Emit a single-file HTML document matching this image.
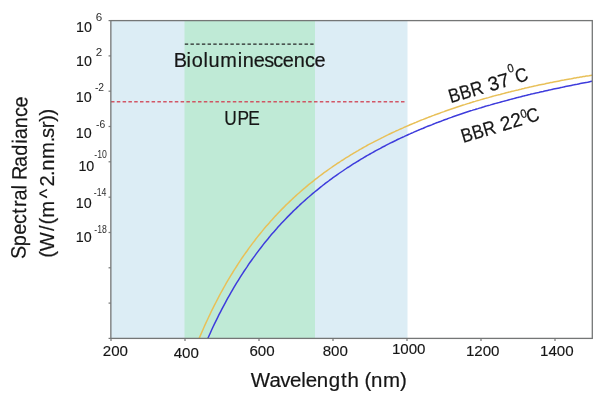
<!DOCTYPE html>
<html><head><meta charset="utf-8"><title>Spectral Radiance</title>
<style>
html,body{margin:0;padding:0;background:#fff;}
body{width:600px;height:401px;overflow:hidden;font-family:"Liberation Sans",sans-serif;}
svg{display:block;filter:blur(0.5px);}
text{font-family:"Liberation Sans",sans-serif;fill:#161616;stroke:#161616;stroke-width:0.2px;}
text.ex{fill:#2c2c2c;stroke:none;}
g.tk text{stroke-width:0.14px;}
g.tk text.ex{stroke:none;}
</style></head><body>
<svg width="600" height="401" viewBox="0 0 600 401">
<defs><clipPath id="cp"><rect x="110.85" y="20.6" width="481.44999999999993" height="317.79999999999995"/></clipPath></defs>
<rect x="-5" y="-5" width="610" height="411" fill="#ffffff"/>
<rect x="110.85" y="20.6" width="296.65" height="317.79999999999995" fill="#dcedf5"/>
<rect x="184.5" y="20.6" width="130.5" height="317.79999999999995" fill="#bfead6"/>
<g clip-path="url(#cp)" fill="none" stroke-width="1.5" stroke-linecap="butt">
<path d="M192.4,355.2 L193.9,351.4 L195.4,347.7 L196.8,344.0 L198.3,340.4 L199.8,336.9 L201.3,333.4 L202.8,330.0 L204.2,326.7 L205.7,323.4 L207.2,320.2 L208.7,317.0 L210.2,313.9 L211.6,310.8 L213.1,307.8 L214.6,304.9 L216.1,302.0 L217.6,299.1 L219.0,296.3 L220.5,293.5 L222.0,290.8 L223.5,288.2 L225.0,285.5 L226.4,282.9 L227.9,280.4 L229.4,277.9 L230.9,275.4 L232.4,273.0 L233.8,270.6 L235.3,268.3 L236.8,266.0 L238.3,263.7 L239.8,261.4 L241.2,259.2 L242.7,257.0 L244.2,254.9 L245.7,252.8 L247.2,250.7 L248.6,248.6 L250.1,246.6 L251.6,244.6 L253.1,242.6 L254.6,240.7 L256.0,238.8 L257.5,236.9 L259.0,235.0 L260.5,233.2 L262.0,231.4 L263.4,229.6 L264.9,227.8 L266.4,226.1 L267.9,224.4 L269.4,222.7 L270.8,221.0 L272.3,219.4 L273.8,217.7 L275.3,216.1 L276.8,214.6 L278.2,213.0 L279.7,211.4 L281.2,209.9 L282.7,208.4 L284.2,206.9 L285.6,205.4 L287.1,204.0 L288.6,202.6 L290.1,201.1 L291.6,199.7 L293.0,198.4 L294.5,197.0 L296.0,195.6 L297.5,194.3 L299.0,193.0 L300.4,191.7 L301.9,190.4 L303.4,189.1 L304.9,187.9 L306.4,186.6 L307.8,185.4 L309.3,184.2 L310.8,183.0 L312.3,181.8 L313.8,180.6 L315.2,179.4 L316.7,178.3 L318.2,177.2 L319.7,176.0 L321.2,174.9 L322.6,173.8 L324.1,172.7 L325.6,171.7 L327.1,170.6 L328.6,169.5 L330.0,168.5 L331.5,167.5 L333.0,166.4 L334.5,165.4 L336.0,164.4 L337.4,163.4 L338.9,162.5 L340.4,161.5 L341.9,160.5 L343.4,159.6 L344.8,158.6 L346.3,157.7 L347.8,156.8 L349.3,155.9 L350.8,154.9 L352.2,154.1 L353.7,153.2 L355.2,152.3 L356.7,151.4 L358.2,150.6 L359.6,149.7 L361.1,148.9 L362.6,148.0 L364.1,147.2 L365.6,146.4 L367.0,145.5 L368.5,144.7 L370.0,143.9 L371.5,143.2 L373.0,142.4 L374.4,141.6 L375.9,140.8 L377.4,140.1 L378.9,139.3 L380.4,138.6 L381.8,137.8 L383.3,137.1 L384.8,136.3 L386.3,135.6 L387.8,134.9 L389.2,134.2 L390.7,133.5 L392.2,132.8 L393.7,132.1 L395.2,131.4 L396.6,130.7 L398.1,130.1 L399.6,129.4 L401.1,128.7 L402.6,128.1 L404.0,127.4 L405.5,126.8 L407.0,126.1 L408.5,125.5 L410.0,124.8 L411.4,124.2 L412.9,123.6 L414.4,123.0 L415.9,122.4 L417.4,121.7 L418.8,121.1 L420.3,120.5 L421.8,119.9 L423.3,119.4 L424.8,118.8 L426.2,118.2 L427.7,117.6 L429.2,117.0 L430.7,116.5 L432.2,115.9 L433.6,115.4 L435.1,114.8 L436.6,114.3 L438.1,113.7 L439.6,113.2 L441.0,112.6 L442.5,112.1 L444.0,111.6 L445.5,111.0 L447.0,110.5 L448.4,110.0 L449.9,109.5 L451.4,109.0 L452.9,108.5 L454.4,108.0 L455.8,107.5 L457.3,107.0 L458.8,106.5 L460.3,106.0 L461.8,105.5 L463.2,105.0 L464.7,104.6 L466.2,104.1 L467.7,103.6 L469.2,103.2 L470.6,102.7 L472.1,102.3 L473.6,101.8 L475.1,101.4 L476.6,100.9 L478.0,100.5 L479.5,100.1 L481.0,99.6 L482.5,99.2 L484.0,98.8 L485.4,98.4 L486.9,98.0 L488.4,97.6 L489.9,97.1 L491.4,96.7 L492.8,96.3 L494.3,95.9 L495.8,95.5 L497.3,95.1 L498.8,94.7 L500.2,94.4 L501.7,94.0 L503.2,93.6 L504.7,93.2 L506.2,92.8 L507.6,92.4 L509.1,92.1 L510.6,91.7 L512.1,91.3 L513.6,91.0 L515.0,90.6 L516.5,90.2 L518.0,89.9 L519.5,89.5 L521.0,89.2 L522.4,88.8 L523.9,88.5 L525.4,88.1 L526.9,87.8 L528.4,87.4 L529.8,87.1 L531.3,86.8 L532.8,86.4 L534.3,86.1 L535.8,85.8 L537.2,85.4 L538.7,85.1 L540.2,84.8 L541.7,84.5 L543.2,84.2 L544.6,83.9 L546.1,83.5 L547.6,83.2 L549.1,82.9 L550.6,82.6 L552.0,82.4 L553.5,82.1 L555.0,81.8 L556.5,81.5 L558.0,81.2 L559.4,80.9 L560.9,80.6 L562.4,80.3 L563.9,80.1 L565.4,79.8 L566.8,79.5 L568.3,79.2 L569.8,78.9 L571.3,78.7 L572.8,78.4 L574.2,78.1 L575.7,77.9 L577.2,77.6 L578.7,77.4 L580.2,77.1 L581.6,76.9 L583.1,76.6 L584.6,76.4 L586.1,76.1 L587.6,75.9 L589.0,75.7 L590.5,75.4 L592.0,75.2 L593.5,75.0" stroke="#e8c058"/>
<path d="M192.4,376.8 L193.9,372.7 L195.4,368.8 L196.8,364.9 L198.3,361.1 L199.8,357.4 L201.3,353.8 L202.8,350.2 L204.2,346.7 L205.7,343.2 L207.2,339.8 L208.7,336.5 L210.2,333.2 L211.6,330.0 L213.1,326.8 L214.6,323.7 L216.1,320.6 L217.6,317.6 L219.0,314.7 L220.5,311.8 L222.0,308.9 L223.5,306.1 L225.0,303.3 L226.4,300.6 L227.9,297.9 L229.4,295.3 L230.9,292.7 L232.4,290.1 L233.8,287.6 L235.3,285.1 L236.8,282.7 L238.3,280.3 L239.8,277.9 L241.2,275.6 L242.7,273.3 L244.2,271.0 L245.7,268.8 L247.2,266.6 L248.6,264.4 L250.1,262.3 L251.6,260.2 L253.1,258.1 L254.6,256.1 L256.0,254.1 L257.5,252.1 L259.0,250.1 L260.5,248.2 L262.0,246.3 L263.4,244.4 L264.9,242.5 L266.4,240.7 L267.9,238.9 L269.4,237.1 L270.8,235.3 L272.3,233.6 L273.8,231.9 L275.3,230.2 L276.8,228.5 L278.2,226.8 L279.7,225.2 L281.2,223.6 L282.7,222.0 L284.2,220.4 L285.6,218.9 L287.1,217.4 L288.6,215.9 L290.1,214.4 L291.6,212.9 L293.0,211.4 L294.5,210.0 L296.0,208.6 L297.5,207.1 L299.0,205.8 L300.4,204.4 L301.9,203.0 L303.4,201.7 L304.9,200.4 L306.4,199.0 L307.8,197.7 L309.3,196.5 L310.8,195.2 L312.3,193.9 L313.8,192.7 L315.2,191.5 L316.7,190.3 L318.2,189.1 L319.7,187.9 L321.2,186.7 L322.6,185.5 L324.1,184.4 L325.6,183.2 L327.1,182.1 L328.6,181.0 L330.0,179.9 L331.5,178.8 L333.0,177.7 L334.5,176.7 L336.0,175.6 L337.4,174.6 L338.9,173.5 L340.4,172.5 L341.9,171.5 L343.4,170.5 L344.8,169.5 L346.3,168.5 L347.8,167.5 L349.3,166.6 L350.8,165.6 L352.2,164.7 L353.7,163.7 L355.2,162.8 L356.7,161.9 L358.2,161.0 L359.6,160.1 L361.1,159.2 L362.6,158.3 L364.1,157.4 L365.6,156.5 L367.0,155.7 L368.5,154.8 L370.0,154.0 L371.5,153.2 L373.0,152.3 L374.4,151.5 L375.9,150.7 L377.4,149.9 L378.9,149.1 L380.4,148.3 L381.8,147.5 L383.3,146.7 L384.8,146.0 L386.3,145.2 L387.8,144.4 L389.2,143.7 L390.7,142.9 L392.2,142.2 L393.7,141.5 L395.2,140.8 L396.6,140.0 L398.1,139.3 L399.6,138.6 L401.1,137.9 L402.6,137.2 L404.0,136.6 L405.5,135.9 L407.0,135.2 L408.5,134.5 L410.0,133.9 L411.4,133.2 L412.9,132.6 L414.4,131.9 L415.9,131.3 L417.4,130.6 L418.8,130.0 L420.3,129.4 L421.8,128.8 L423.3,128.2 L424.8,127.5 L426.2,126.9 L427.7,126.3 L429.2,125.7 L430.7,125.2 L432.2,124.6 L433.6,124.0 L435.1,123.4 L436.6,122.8 L438.1,122.3 L439.6,121.7 L441.0,121.2 L442.5,120.6 L444.0,120.0 L445.5,119.5 L447.0,119.0 L448.4,118.4 L449.9,117.9 L451.4,117.4 L452.9,116.8 L454.4,116.3 L455.8,115.8 L457.3,115.3 L458.8,114.8 L460.3,114.3 L461.8,113.8 L463.2,113.3 L464.7,112.8 L466.2,112.3 L467.7,111.8 L469.2,111.3 L470.6,110.8 L472.1,110.4 L473.6,109.9 L475.1,109.5 L476.6,109.0 L478.0,108.6 L479.5,108.1 L481.0,107.7 L482.5,107.2 L484.0,106.8 L485.4,106.3 L486.9,105.9 L488.4,105.5 L489.9,105.1 L491.4,104.6 L492.8,104.2 L494.3,103.8 L495.8,103.4 L497.3,103.0 L498.8,102.6 L500.2,102.2 L501.7,101.8 L503.2,101.4 L504.7,101.0 L506.2,100.6 L507.6,100.2 L509.1,99.8 L510.6,99.4 L512.1,99.0 L513.6,98.6 L515.0,98.2 L516.5,97.8 L518.0,97.4 L519.5,97.1 L521.0,96.7 L522.4,96.3 L523.9,95.9 L525.4,95.6 L526.9,95.2 L528.4,94.8 L529.8,94.5 L531.3,94.1 L532.8,93.8 L534.3,93.4 L535.8,93.1 L537.2,92.7 L538.7,92.4 L540.2,92.0 L541.7,91.7 L543.2,91.4 L544.6,91.0 L546.1,90.7 L547.6,90.4 L549.1,90.1 L550.6,89.8 L552.0,89.4 L553.5,89.1 L555.0,88.8 L556.5,88.5 L558.0,88.2 L559.4,87.9 L560.9,87.6 L562.4,87.3 L563.9,86.9 L565.4,86.6 L566.8,86.3 L568.3,86.0 L569.8,85.7 L571.3,85.4 L572.8,85.1 L574.2,84.7 L575.7,84.4 L577.2,84.2 L578.7,83.9 L580.2,83.6 L581.6,83.3 L583.1,83.0 L584.6,82.7 L586.1,82.4 L587.6,82.2 L589.0,81.9 L590.5,81.6 L592.0,81.3 L593.5,81.1" stroke="#3e3cdc"/>
</g>
<line x1="184.8" y1="44.1" x2="314.5" y2="44.1" stroke="#262626" stroke-width="1.3" stroke-dasharray="3.4 2.3"/>
<line x1="111" y1="101.8" x2="406.3" y2="101.8" stroke="#d04656" stroke-opacity="0.9" stroke-width="1.5" stroke-dasharray="3.5 2.3"/>
<rect x="110.85" y="20.6" width="481.44999999999993" height="317.79999999999995" fill="none" stroke="#747676" stroke-width="1.3"/>
<g stroke="#747676" stroke-width="1.2"><line x1="108.55" y1="20.6" x2="110.85" y2="20.6"/><line x1="108.55" y1="55.9" x2="110.85" y2="55.9"/><line x1="108.55" y1="91.2" x2="110.85" y2="91.2"/><line x1="108.55" y1="126.5" x2="110.85" y2="126.5"/><line x1="108.55" y1="161.8" x2="110.85" y2="161.8"/><line x1="108.55" y1="197.2" x2="110.85" y2="197.2"/><line x1="108.55" y1="232.5" x2="110.85" y2="232.5"/><line x1="108.55" y1="267.8" x2="110.85" y2="267.8"/><line x1="108.55" y1="303.1" x2="110.85" y2="303.1"/><line x1="108.55" y1="338.4" x2="110.85" y2="338.4"/><line x1="111" y1="338.4" x2="111" y2="340.9"/><line x1="185" y1="338.4" x2="185" y2="340.9"/><line x1="259" y1="338.4" x2="259" y2="340.9"/><line x1="333" y1="338.4" x2="333" y2="340.9"/><line x1="407" y1="338.4" x2="407" y2="340.9"/><line x1="481" y1="338.4" x2="481" y2="340.9"/><line x1="555" y1="338.4" x2="555" y2="340.9"/></g>
<g font-size="15.1" class="tk"><text x="115.4" y="356" text-anchor="middle">200</text><text x="186.3" y="358" text-anchor="middle">400</text><text x="262.0" y="355.8" text-anchor="middle">600</text><text x="335.3" y="356.2" text-anchor="middle">800</text><text x="408.7" y="354.4" text-anchor="middle">1000</text><text x="482.7" y="356.3" text-anchor="middle">1200</text><text x="556.8" y="355.5" text-anchor="middle">1400</text></g>
<g font-size="15" class="tk"><text x="76.0" y="32.2" textLength="15.9" lengthAdjust="spacingAndGlyphs">10</text><text x="95.8" y="20.8" font-size="11.6" class="ex">6</text><text x="76.0" y="66.4" textLength="15.9" lengthAdjust="spacingAndGlyphs">10</text><text x="95.8" y="56.4" font-size="11.6" class="ex">2</text><text x="75.8" y="101.8" textLength="15.9" lengthAdjust="spacingAndGlyphs">10</text><text x="94.9" y="91.0" font-size="10.3" class="ex">-2</text><text x="75.8" y="137.7" textLength="15.9" lengthAdjust="spacingAndGlyphs">10</text><text x="96" y="128.2" font-size="10.3" class="ex">-6</text><text x="78.4" y="170.8" textLength="15.9" lengthAdjust="spacingAndGlyphs">10</text><text x="94.3" y="158.3" font-size="10.5" class="ex" textLength="12.6" lengthAdjust="spacingAndGlyphs">-10</text><text x="75.8" y="208.2" textLength="15.9" lengthAdjust="spacingAndGlyphs">10</text><text x="93.8" y="196.3" font-size="10.5" class="ex" textLength="12.6" lengthAdjust="spacingAndGlyphs">-14</text><text x="75.8" y="241.6" textLength="15.9" lengthAdjust="spacingAndGlyphs">10</text><text x="94.3" y="233" font-size="10.5" class="ex" textLength="12.6" lengthAdjust="spacingAndGlyphs">-18</text></g>
<text transform="translate(250.7,387) scale(0.9933,1)" font-size="20.6" x="-0.06 18.87 29.67 39.46 50.83 55.31 66.59 78.55 91.02 97.52 109.07 114.47 121.16 133.10 150.29" y="0">Wavelength (nm)</text>
<text transform="translate(174.6,66.6) scale(0.9684,1)" font-size="20.6" x="-0.81 12.39 17.71 29.90 35.02 47.27 65.22 70.34 81.86 92.45 101.82 111.66 123.18 134.64 144.47" y="0">Bioluminescence</text>
<text transform="translate(223.6,124.8) scale(0.8405,1)" font-size="20.6" x="0.84 16.49 29.39" y="0">UPE</text>
<text transform="translate(25.5,257.8) rotate(-89.35) scale(0.9484,1)" font-size="20.8" x="-1.16 12.16 24.24 35.54 46.56 53.45 60.45 72.09 77.12 81.99 95.75 107.69 120.19 124.89 136.59 148.36 158.49" y="0">Spectral Radiance</text>
<text transform="translate(53.8,257.5) rotate(-90) scale(1.0000,1)" font-size="20.2" x="-0.27 6.21 26.49 33.02 39.88 59.39 71.04 81.59 86.81 98.64 115.29 119.62 129.21 135.86 142.05" y="0">(W/(m^2.nm.sr))</text>
<g transform="translate(450.85,103.3) rotate(-16.6)" font-size="19.6"><text x="0" y="0" textLength="35.2" lengthAdjust="spacingAndGlyphs">BBR</text><text x="41" y="0" textLength="21.6" lengthAdjust="spacingAndGlyphs">37</text><text x="64.2" y="-12.4" font-size="12" textLength="6.2" lengthAdjust="spacingAndGlyphs">0</text><text x="69.4" y="0" textLength="12.6" lengthAdjust="spacingAndGlyphs">C</text></g>
<g transform="translate(463.25,142.9) rotate(-16.6)" font-size="19.6"><text x="0" y="0" textLength="35.2" lengthAdjust="spacingAndGlyphs">BBR</text><text x="41" y="0" textLength="21.6" lengthAdjust="spacingAndGlyphs">22</text><text x="62.900000000000006" y="-6.6" font-size="12" textLength="6.2" lengthAdjust="spacingAndGlyphs">0</text><text x="68.10000000000001" y="0" textLength="12.6" lengthAdjust="spacingAndGlyphs">C</text></g>
</svg>
</body></html>
